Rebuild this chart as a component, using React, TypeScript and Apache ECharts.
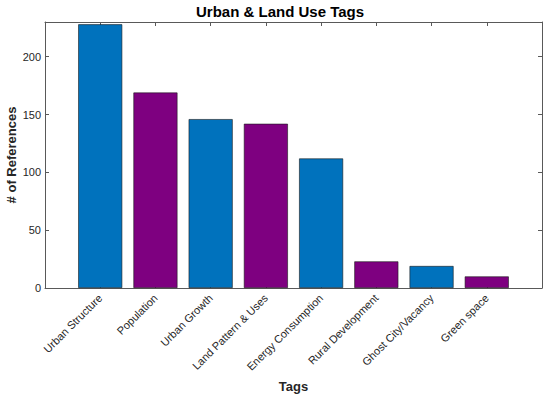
import React, { useEffect, useRef } from "react";
import * as echarts from "echarts";

const categories = [
  "Urban Structure",
  "Population",
  "Urban Growth",
  "Land Pattern & Uses",
  "Energy Consumption",
  "Rural Development",
  "Ghost City/Vacancy",
  "Green space",
];
const values = [228, 169, 146, 142, 112, 23, 19, 10];
const yTicks = [0, 50, 100, 150, 200];

const BLUE = "#0072BD";
const PURPLE = "#7E0080";
const AXIS = "#595959";
const TEXT = "#262626";
const FONT = "'Liberation Sans', Arial, sans-serif";

export default function App() {
  const ref = useRef<HTMLDivElement>(null);
  useEffect(() => {
    if (!ref.current) return;
    const chart = echarts.init(ref.current, null, { renderer: "svg" });
    const xBase = {
      type: "value" as const,
      min: 0,
      max: categories.length + 1,
      interval: 1,
      splitLine: { show: false },
      axisLine: { show: true, onZero: false, lineStyle: { color: AXIS, width: 1 } },
    };
    const yBase = {
      type: "value" as const,
      min: 0,
      max: 230,
      interval: 50,
      splitLine: { show: false },
      axisLine: { show: true, onZero: false, lineStyle: { color: AXIS, width: 1 } },
    };
    chart.setOption({
      animation: false,
      backgroundColor: "#ffffff",
      textStyle: { fontFamily: FONT },
      title: {
        text: "Urban & Land Use Tags",
        left: 196,
        top: 4,
        padding: 0,
        textStyle: { fontFamily: FONT, fontSize: 15, fontWeight: "bold", color: "#000" },
      },
      grid: {
        left: 45,
        right: 8,
        top: 22,
        bottom: 109,
        containLabel: false,
        outerBoundsMode: "none",
      },
      xAxis: [
        {
          ...xBase,
          position: "bottom",
          name: "Tags",
          nameLocation: "middle",
          nameGap: 92,
          nameTextStyle: { fontFamily: FONT, fontSize: 13, fontWeight: "bold", color: TEXT },
          axisTick: { show: true, inside: true, length: 4, lineStyle: { color: AXIS } },
          axisLabel: {
            rotate: 45,
            fontFamily: FONT,
            fontSize: 11,
            color: TEXT,
            margin: 8,
            showMinLabel: false,
            showMaxLabel: false,
            formatter: (v: number) => {
              const i = Math.round(v) - 1;
              return i >= 0 && i < categories.length ? categories[i] : "";
            },
          },
        },
        {
          ...xBase,
          position: "top",
          axisTick: { show: true, inside: true, length: 4, lineStyle: { color: AXIS } },
          axisLabel: { show: false },
        },
      ],
      yAxis: [
        {
          ...yBase,
          position: "left",
          name: "# of References",
          nameLocation: "middle",
          nameGap: 27,
          nameMoveOverlap: false,
          nameTextStyle: { fontFamily: FONT, fontSize: 13, fontWeight: "bold", color: TEXT },
          axisTick: { show: true, inside: true, length: 4, lineStyle: { color: AXIS } },
          axisLabel: {
            fontFamily: FONT,
            fontSize: 11,
            color: TEXT,
            margin: 4,
            showMaxLabel: false,
            formatter: (v: number) => (yTicks.includes(v) ? String(v) : ""),
          },
        },
        {
          ...yBase,
          position: "right",
          axisTick: { show: true, inside: true, length: 4, lineStyle: { color: AXIS } },
          axisLabel: { show: false },
        },
      ],
      series: [
        {
          type: "bar",
          xAxisIndex: 0,
          yAxisIndex: 0,
          barWidth: 44,
          data: values.map((v, i) => ({
            value: [i + 1, v],
            itemStyle: {
              color: i % 2 === 0 ? BLUE : PURPLE,
              borderColor: "#1a1a1a",
              borderWidth: 0.6,
            },
          })),
        },
      ],
    });
    return () => chart.dispose();
  }, []);
  return (
    <div
      ref={ref}
      style={{ position: "fixed", left: 0, top: 0, width: 550, height: 397, background: "#fff" }}
    />
  );
}
